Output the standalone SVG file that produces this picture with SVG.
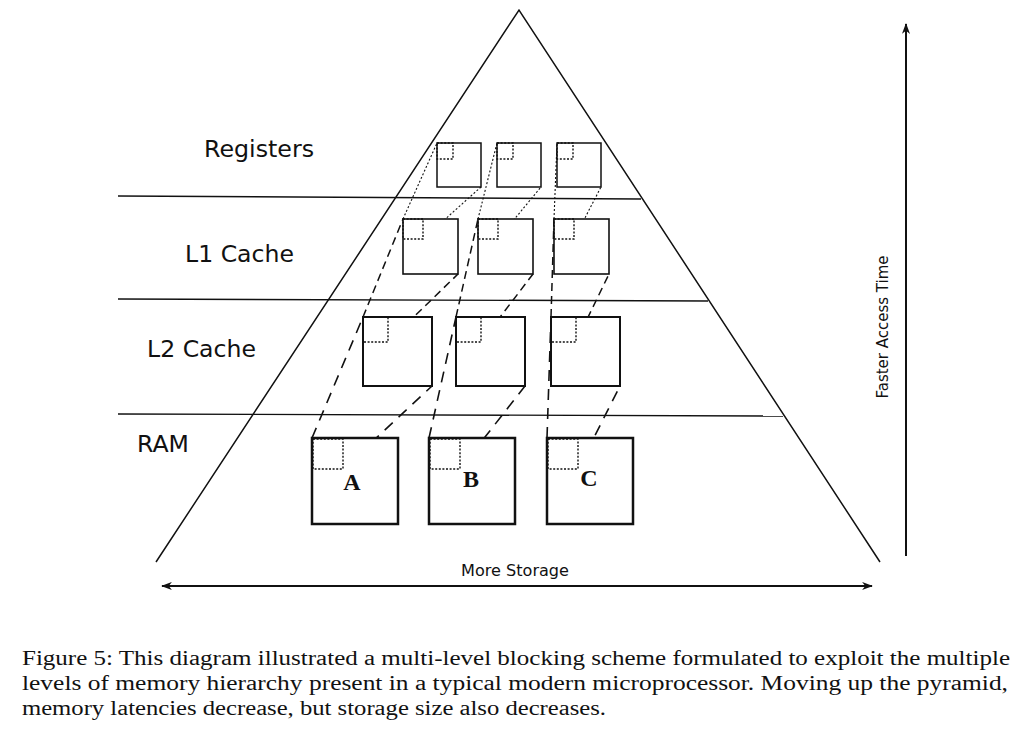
<svg xmlns="http://www.w3.org/2000/svg" width="1024" height="746" viewBox="0 0 1024 746">
<defs>
<marker id="ah" viewBox="0 0 12 10" refX="11" refY="5" markerWidth="12" markerHeight="9" orient="auto-start-reverse" markerUnits="userSpaceOnUse">
<path d="M0,0.5 L12,5 L0,9.5 L3.5,5 Z" fill="#111"/>
</marker>
</defs>
<style>
.edge{fill:none;stroke:#111;stroke-width:1.5}
.lvl{fill:none;stroke:#111;stroke-width:1.4}
.reg{fill:#fff;stroke:#111;stroke-width:1.5}
.l1{fill:#fff;stroke:#111;stroke-width:1.6}
.l2{fill:#fff;stroke:#111;stroke-width:2}
.ram{fill:#fff;stroke:#111;stroke-width:2.5}
.inner{fill:none;stroke:#111;stroke-width:1.4;stroke-dasharray:2,1.6}
.c1{fill:none;stroke:#111;stroke-width:1.1;stroke-dasharray:2,2}
.c2{fill:none;stroke:#111;stroke-width:1.5;stroke-dasharray:8,5}
.c3{fill:none;stroke:#111;stroke-width:1.6;stroke-dasharray:11,8}
.lab{font-family:"DejaVu Sans",sans-serif;font-size:23px;fill:#111}
.ax{font-family:"DejaVu Sans",sans-serif;font-size:15px;fill:#111}
.big{font-family:"Liberation Serif",serif;font-weight:bold;font-size:24px;fill:#111;text-anchor:middle}
.cap{font-family:"Liberation Serif",serif;font-size:20px;fill:#111}
</style>

<g id="pyramid">
<path class="edge" d="M156,562 L519,10 L880,562"/>
<line class="lvl" x1="118" y1="196" x2="641" y2="199"/>
<line class="lvl" x1="118" y1="299" x2="708" y2="301"/>
<line class="lvl" x1="118" y1="414" x2="783" y2="416"/>
</g>

<g id="level-labels">
<text class="lab" x="204" y="157" textLength="110" lengthAdjust="spacingAndGlyphs">Registers</text>
<text class="lab" x="185" y="262" textLength="109" lengthAdjust="spacingAndGlyphs">L1 Cache</text>
<text class="lab" x="147" y="357" textLength="109" lengthAdjust="spacingAndGlyphs">L2 Cache</text>
<text class="lab" x="137" y="452" textLength="52" lengthAdjust="spacingAndGlyphs">RAM</text>
</g>

<g id="connectors">
<line class="c1" x1="403" y1="219" x2="437" y2="143"/>
<line class="c1" x1="423" y1="239" x2="481" y2="187"/>
<line class="c1" x1="478" y1="219" x2="497" y2="143"/>
<line class="c1" x1="498" y1="239" x2="541" y2="187"/>
<line class="c1" x1="554" y1="219" x2="557" y2="143"/>
<line class="c1" x1="574" y1="239" x2="601" y2="187"/>
<line class="c2" x1="363" y1="317" x2="403" y2="219"/>
<line class="c2" x1="388" y1="342" x2="458" y2="274"/>
<line class="c2" x1="456" y1="317" x2="478" y2="219"/>
<line class="c2" x1="481" y1="342" x2="533" y2="274"/>
<line class="c2" x1="551" y1="317" x2="554" y2="219"/>
<line class="c2" x1="576" y1="342" x2="609" y2="274"/>
<line class="c3" x1="312" y1="438" x2="363" y2="317"/>
<line class="c3" x1="343" y1="469" x2="432" y2="386"/>
<line class="c3" x1="429" y1="438" x2="456" y2="317"/>
<line class="c3" x1="460" y1="469" x2="525" y2="386"/>
<line class="c3" x1="547" y1="438" x2="551" y2="317"/>
<line class="c3" x1="578" y1="469" x2="620" y2="386"/>
</g>

<g id="reg-1"><rect class="reg" x="437" y="143" width="44" height="44"/><rect class="inner" x="437" y="143" width="16" height="16"/></g>
<g id="reg-2"><rect class="reg" x="497" y="143" width="44" height="44"/><rect class="inner" x="497" y="143" width="16" height="16"/></g>
<g id="reg-3"><rect class="reg" x="557" y="143" width="44" height="44"/><rect class="inner" x="557" y="143" width="16" height="16"/></g>

<g id="l1-1"><rect class="l1" x="403" y="219" width="55" height="55"/><rect class="inner" x="403" y="219" width="20" height="20"/></g>
<g id="l1-2"><rect class="l1" x="478" y="219" width="55" height="55"/><rect class="inner" x="478" y="219" width="20" height="20"/></g>
<g id="l1-3"><rect class="l1" x="554" y="219" width="55" height="55"/><rect class="inner" x="554" y="219" width="20" height="20"/></g>

<g id="l2-1"><rect class="l2" x="363" y="317" width="69" height="69"/><rect class="inner" x="363" y="317" width="25" height="25"/></g>
<g id="l2-2"><rect class="l2" x="456" y="317" width="69" height="69"/><rect class="inner" x="456" y="317" width="25" height="25"/></g>
<g id="l2-3"><rect class="l2" x="551" y="317" width="69" height="69"/><rect class="inner" x="551" y="317" width="25" height="25"/></g>

<g id="ram-A"><rect class="ram" x="312" y="438" width="86" height="86"/><rect class="inner" x="313" y="439" width="30" height="30"/><text class="big" x="352" y="490">A</text></g>
<g id="ram-B"><rect class="ram" x="429" y="438" width="86" height="86"/><rect class="inner" x="430" y="439" width="30" height="30"/><text class="big" x="471" y="487">B</text></g>
<g id="ram-C"><rect class="ram" x="547" y="438" width="86" height="86"/><rect class="inner" x="548" y="439" width="30" height="30"/><text class="big" x="589" y="486">C</text></g>

<g id="axes">
<line x1="906" y1="556" x2="906" y2="24" stroke="#111" stroke-width="2" marker-end="url(#ah)"/>
<text class="ax" transform="translate(888,327) rotate(-90)" text-anchor="middle">Faster Access Time</text>
<line x1="162" y1="586" x2="872" y2="586" stroke="#111" stroke-width="2" marker-start="url(#ah)" marker-end="url(#ah)"/>
<text class="ax" x="515" y="576" text-anchor="middle" textLength="108" lengthAdjust="spacingAndGlyphs">More Storage</text>
</g>

<g id="caption">
<text class="cap" x="22" y="665" textLength="988" lengthAdjust="spacingAndGlyphs">Figure 5: This diagram illustrated a multi-level blocking scheme formulated to exploit the multiple</text>
<text class="cap" x="22" y="690" textLength="986" lengthAdjust="spacingAndGlyphs">levels of memory hierarchy present in a typical modern microprocessor. Moving up the pyramid,</text>
<text class="cap" x="22" y="715" textLength="584" lengthAdjust="spacingAndGlyphs">memory latencies decrease, but storage size also decreases.</text>
</g>
</svg>
